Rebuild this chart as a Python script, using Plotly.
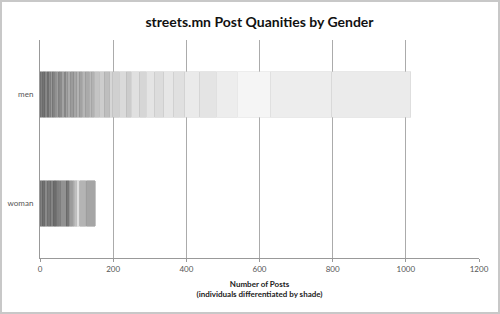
import plotly.graph_objects as go

categories = ["men", "woman"]
men_posts = [4, 4, 5, 4, 3, 4, 6, 4, 5, 5, 7, 5, 4, 7, 4, 5, 8, 8, 8, 7, 9, 8, 10, 6, 8,
             14, 14, 14, 8, 19, 19, 14, 22, 19, 22, 25, 27, 30, 41, 46, 57, 90, 169, 216]
woman_posts = [8, 5, 8, 8, 8, 8, 8, 4, 15, 8, 8, 5, 8, 8, 14, 5, 23]
x_ticks = [0, 200, 400, 600, 800, 1000, 1200]

# grey shades per individual (style)
men_shades = [125, 138, 115, 132, 148, 122, 136, 152, 130, 144, 158, 134, 150, 162, 142, 160, 170,
              155, 166, 178, 162, 182, 170, 186, 178, 196, 205, 190, 214, 208, 218, 204, 224, 214,
              228, 220, 230, 224, 234, 228, 237, 245, 237, 235]
woman_shades = [128, 112, 138, 120, 132, 108, 126, 142, 146, 118, 156, 170, 192, 224, 180, 188, 165]

fig = go.Figure()

def add_segments(cat, vals, shades):
    for v, g in zip(vals, shades):
        edge = max(g - 25, 80)
        fig.add_trace(go.Bar(
            y=[cat], x=[v], orientation="h",
            marker=dict(color=f"rgb({g},{g},{g})",
                        line=dict(color=f"rgb({edge},{edge},{edge})", width=0.5)),
            showlegend=False, hoverinfo="skip"))

add_segments(categories[0], men_posts, men_shades)
add_segments(categories[1], woman_posts, woman_shades)

W, H = 500, 314
ml, mr, mt, mb = 40, 21, 40, 56
pw, ph = W - ml - mr, H - mt - mb

fig.update_layout(
    width=W, height=H,
    margin=dict(l=ml, r=mr, t=mt, b=mb),
    barmode="stack", bargap=0.58,
    paper_bgcolor="white", plot_bgcolor="white",
    title=dict(text="<b>streets.mn Post Quanities by Gender</b>", x=0.5, xref="paper",
               y=1 - 22 / H, yanchor="middle",
               font=dict(family="Lato", size=14, color="#111")),
    font=dict(family="Lato", size=8, color="#555"),
    xaxis=dict(range=[0, 1200], tickvals=x_ticks, showgrid=True, gridcolor="#ababab",
               gridwidth=1, zeroline=False, showline=True, linecolor="#999",
               ticks="outside", ticklen=3, tickcolor="#999", automargin=False,
               tickfont=dict(size=8, color="#555"),
               title=dict(text="<b>Number of Posts</b><br><b>(individuals differentiated by shade)</b>",
                          font=dict(size=8, color="#222"), standoff=8)),
    yaxis=dict(categoryorder="array", categoryarray=["woman", "men"], automargin=False,
               showline=True, linecolor="#999", showgrid=False,
               tickfont=dict(size=8, color="#555"), ticks="", ticklabelstandoff=4),
    shapes=[dict(type="rect", xref="paper", yref="paper",
                 x0=(1 - ml) / pw, x1=(W - 1 - ml) / pw,
                 y0=-(mb - 1) / ph, y1=(H - mb - 1) / ph,
                 line=dict(color="#c8c8c8", width=2), layer="below")],
)

fig.write_html("out.html")
